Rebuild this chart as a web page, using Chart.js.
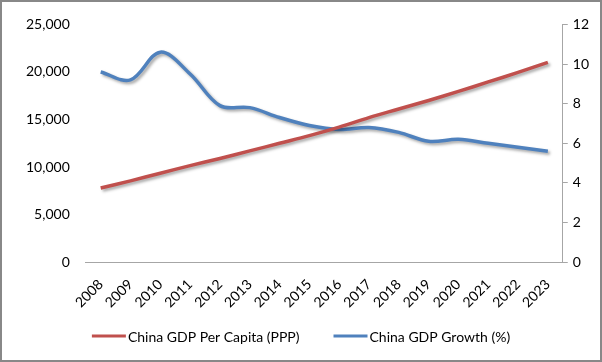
<!DOCTYPE html>
<html>
<head>
<meta charset="utf-8">
<script src="https://cdn.jsdelivr.net/npm/chart.js@4.4.1/dist/chart.umd.min.js"></script>
<style>
  html, body { margin: 0; padding: 0; background: #fff; }
  #wrap { width: 602px; height: 362px; position: relative; }
</style>
</head>
<body>
<div id="wrap"><canvas id="canvas" width="602" height="362"></canvas></div>
<script>
// data
var years = ['2008', '2009', '2010', '2011', '2012', '2013', '2014', '2015',
	'2016', '2017', '2018', '2019', '2020', '2021', '2022', '2023'];
var gdpPerCapita = [7800, 8550, 9350, 10150, 10900, 11700, 12500, 13300,
	14200, 15200, 16100, 17000, 17950, 18950, 19950, 21000];
var gdpGrowth = [9.6, 9.2, 10.6, 9.5, 7.9, 7.8, 7.3, 6.9,
	6.7, 6.8, 6.55, 6.1, 6.2, 6.0, 5.8, 5.6];
var leftTicks = [0, 5000, 10000, 15000, 20000, 25000];
var rightTicks = [0, 2, 4, 6, 8, 10, 12];

var FONT = 'Lato';

// soft drop shadow under each line, like the office chart
var lineShadow = {
	id: 'lineShadow',
	beforeDatasetDraw: function(chart) {
		var c = chart.ctx;
		c.save();
		c.shadowColor = 'rgba(0,0,0,0.35)';
		c.shadowBlur = 3;
		c.shadowOffsetX = 2;
		c.shadowOffsetY = 2;
	},
	afterDatasetDraw: function(chart) {
		chart.ctx.restore();
	}
};

// legend drawn by hand: short line sample right against the text, wide gap between items
var bottomLegend = {
	id: 'bottomLegend',
	afterDraw: function(chart) {
		var c = chart.ctx;
		var sample = 34, gap = 2, between = 34;
		var y = chart.height - 26;
		c.save();
		c.font = '14px ' + FONT;
		c.textBaseline = 'middle';
		var items = chart.data.datasets.map(function(ds) {
			return { text: ds.label, color: ds.borderColor, w: sample + gap + c.measureText(ds.label).width };
		});
		var total = items.reduce(function(s, it) { return s + it.w; }, 0) + between * (items.length - 1);
		var x = (chart.width - total) / 2;
		items.forEach(function(it) {
			c.strokeStyle = it.color;
			c.lineWidth = 3;
			c.beginPath();
			c.moveTo(x, y);
			c.lineTo(x + sample, y);
			c.stroke();
			c.fillStyle = '#000';
			c.fillText(it.text, x + sample + gap, y + 1);
			x += it.w + between;
		});
		c.restore();
	}
};

// grey frame round the whole picture
var frame = {
	id: 'frame',
	afterDraw: function(chart) {
		var c = chart.ctx;
		c.save();
		c.strokeStyle = '#888888';
		c.lineWidth = 2;
		c.strokeRect(1, 1, chart.width - 2, chart.height - 2);
		c.restore();
	}
};

var ctx = document.getElementById('canvas').getContext('2d');
new Chart(ctx, {
	type: 'line',
	data: {
		labels: years,
		datasets: [{
			label: 'China GDP Per Capita (PPP)',
			data: gdpPerCapita,
			yAxisID: 'y',
			borderColor: '#C0504D',
			backgroundColor: '#C0504D',
			borderWidth: 3.5,
			pointRadius: 0,
			tension: 0.35
		}, {
			label: 'China GDP Growth (%)',
			data: gdpGrowth,
			yAxisID: 'y1',
			borderColor: '#4F81BD',
			backgroundColor: '#4F81BD',
			borderWidth: 3.5,
			pointRadius: 0,
			tension: 0.35
		}]
	},
	options: {
		responsive: false,
		animation: false,
		layout: {
			padding: { left: 10, right: 8, top: 11, bottom: 37 }
		},
		plugins: {
			legend: { display: false },
			tooltip: { enabled: false }
		},
		scales: {
			x: {
				offset: true,
				grid: { display: false, drawTicks: false },
				border: { display: true, color: '#A6A6A6', width: 1 },
				ticks: {
					minRotation: 45,
					maxRotation: 45,
					padding: 14,
					color: '#000',
					font: { family: FONT, size: 14 }
				}
			},
			y: {
				position: 'left',
				min: 0,
				max: 25000,
				afterBuildTicks: function(axis) {
					axis.ticks = leftTicks.map(function(v) { return { value: v }; });
				},
				grid: { display: false, drawTicks: false },
				border: { display: false },
				ticks: {
					padding: 16,
					color: '#000',
					font: { family: FONT, size: 14 },
					callback: function(v) { return v.toLocaleString('en-US'); }
				}
			},
			y1: {
				position: 'right',
				min: 0,
				max: 12,
				afterBuildTicks: function(axis) {
					axis.ticks = rightTicks.map(function(v) { return { value: v }; });
				},
				grid: { drawOnChartArea: false, drawTicks: true, tickLength: 5, color: '#A6A6A6' },
				border: { display: true, color: '#A6A6A6', width: 1 },
				ticks: {
					padding: 5,
					color: '#000',
					font: { family: FONT, size: 14 }
				}
			}
		}
	},
	plugins: [lineShadow, bottomLegend, frame]
});
</script>
</body>
</html>
